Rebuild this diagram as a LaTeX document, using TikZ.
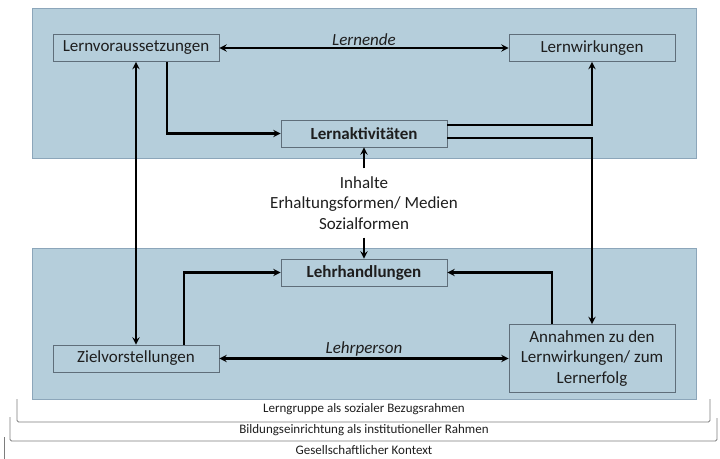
\documentclass[tikz,border=0pt]{standalone}
\usepackage{fontspec}
\setmainfont{Carlito}
\usepackage{tikz}
\definecolor{panelblue}{RGB}{181,206,219}
\definecolor{paneledge}{RGB}{140,166,186}
\definecolor{boxedge}{RGB}{95,110,122}
\definecolor{txt}{RGB}{30,30,30}
\definecolor{brack}{RGB}{125,125,125}
\tikzstyle{panel}=[fill=panelblue,draw=paneledge,line width=0.8pt]
\tikzstyle{bx}=[shape=rectangle,draw=boxedge,fill=panelblue,line width=0.8pt,minimum width=166pt,minimum height=27pt,inner sep=0pt,text=txt,font=\fontsize{17}{20.5}\selectfont]
\tikzstyle{link}=[->,>=stealth,line width=2.2pt]
\tikzstyle{dlink}=[<->,>=stealth,line width=2.2pt]
\tikzstyle{lbl}=[above,inner sep=1pt,text=txt,font=\fontsize{17}{20.5}\selectfont\itshape]
\tikzstyle{brace}=[draw=brack,line width=0.8pt,rounded corners=1.5pt]
\tikzstyle{ft}=[text=txt,font=\fontsize{13}{15}\selectfont]

\begin{document}
\begin{tikzpicture}[x=1pt,y=-1pt]
            \useasboundingbox (0,0) rectangle (720,458);
            % Lernende / Lehrperson
            \draw[panel] (32,8) rectangle (696,158);
            \draw[panel] (32,248) rectangle (696,399);

            \node[bx] (lv) at (136,48) {Lernvoraussetzungen}
            ;
            \node[bx] (lw) at (592,48) {Lernwirkungen}
                edge[dlink] node[lbl] {Lernende} (lv)
            ;
            \node[bx,font=\fontsize{17}{20.5}\selectfont\bfseries] (la) at (364,133.5) {Lernaktivitäten}
            ;
            \node[bx,font=\fontsize{17}{20.5}\selectfont\bfseries] (lh) at (364,272.5) {Lehrhandlungen}
            ;
            \node[bx] (zv) at (136,358.5) {Zielvorstellungen}
                edge[dlink] (lv)
            ;
            \node[bx,minimum height=68pt,align=center] (an) at (592,358.5) {Annahmen zu den\\Lernwirkungen/ zum\\Lernerfolg}
                edge[dlink] node[lbl] {Lehrperson} (zv)
            ;
            \node[align=center,inner xsep=0pt,inner ysep=8pt,text=txt,font=\fontsize{17}{20.5}\selectfont] (inh) at (364,203) {Inhalte\\Erhaltungsformen/ Medien\\Sozialformen}
                edge[link] (la)
                edge[link] (lh)
            ;

            \draw[link] ([xshift=31pt]lv.south) |- (la.west);
            \draw[link] ([yshift=8.5pt]la.east) -| (lw.south);
            \draw[link] ([yshift=-4.5pt]la.east) -| (an.north);
            \draw[link] ([xshift=48pt]zv.north) |- (lh.west);
            \draw[link] ([xshift=-40pt]an.north) |- (lh.east);

            % Rahmen
            \draw[brace] (17,399) -- (17,422) -- (710,422) -- (710,399);
            \node[ft] (kreis1) at (364,409) {Lerngruppe als sozialer Bezugsrahmen};
            \draw[brace] (10,417) -- (10,441) -- (717,441) -- (717,418);
            \node[ft] (kreis2) at (364,430) {Bildungseinrichtung als institutioneller Rahmen};
            \draw[brace] (4.5,437) -- (4.5,460);
            \node[ft] (kreis3) at (364,450) {Gesellschaftlicher Kontext};
        \end{tikzpicture}
\end{document}
